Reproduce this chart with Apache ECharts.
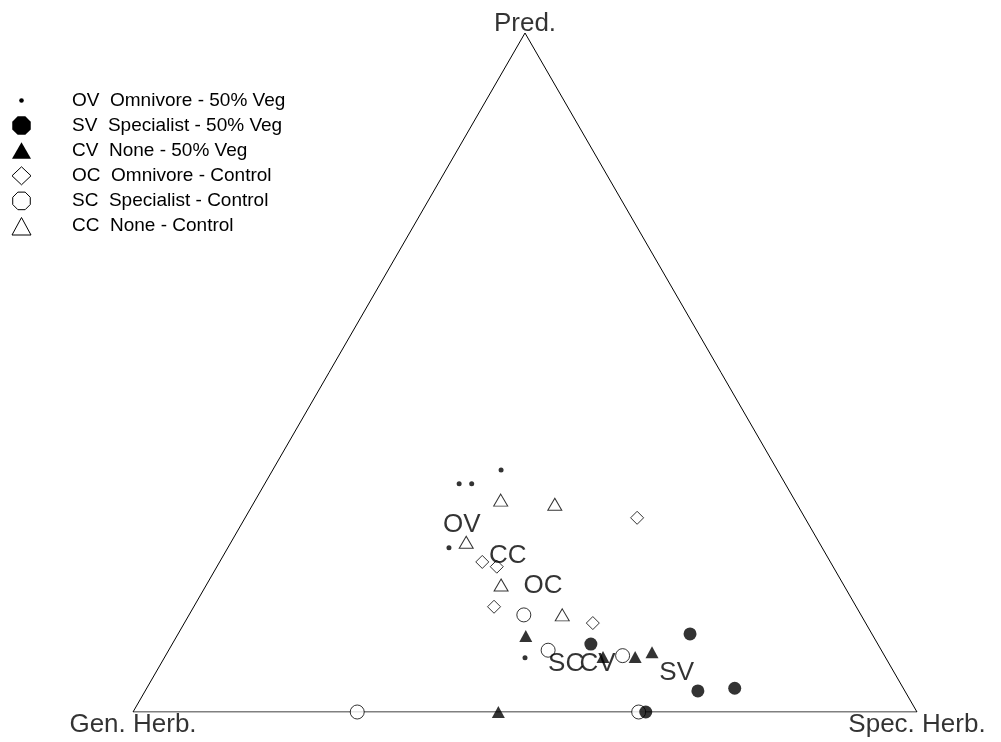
<!DOCTYPE html>
<html><head><meta charset="utf-8">
<script src="https://cdn.jsdelivr.net/npm/echarts@6/dist/echarts.min.js"></script>
<style>html,body{margin:0;padding:0;background:#fff}#c{width:1001px;height:742px}</style>
</head><body><div id="c"></div>
<script>
// Ternary compositions, each point = [Pred., Gen. Herb., Spec. Herb.] proportions
const axisNames = ['Pred.', 'Gen. Herb.', 'Spec. Herb.'];
const groupCodes = ['OV', 'SV', 'CV', 'OC', 'SC', 'CC'];
const groupNames = ['Omnivore - 50% Veg', 'Specialist - 50% Veg', 'None - 50% Veg',
                    'Omnivore - Control', 'Specialist - Control', 'None - Control'];

const OV = [[0.356,0.352,0.291],[0.336,0.416,0.248],[0.336,0.400,0.264],[0.242,0.476,0.282],[0.080,0.460,0.460]];
const SV = [[0.115,0.232,0.653],[0.031,0.264,0.705],[0.035,0.215,0.750],[0.100,0.366,0.534],[0.000,0.346,0.654]];
const CV = [[0.112,0.443,0.445],[0.081,0.360,0.559],[0.081,0.319,0.600],[0.088,0.294,0.618],[0.000,0.534,0.466]];
const OC = [[0.286,0.214,0.500],[0.221,0.444,0.335],[0.214,0.429,0.357],[0.155,0.462,0.383],[0.131,0.348,0.521]];
const SC = [[0.143,0.430,0.427],[0.091,0.425,0.484],[0.083,0.334,0.583],[0.000,0.714,0.286],[0.000,0.355,0.645]];
const CC = [[0.312,0.375,0.313],[0.306,0.309,0.385],[0.250,0.450,0.300],[0.187,0.437,0.376],[0.143,0.381,0.476]];

// group label positions (centres), same order as groupCodes
const groupCentres = [[0.275,0.443,0.282],[0.057,0.278,0.665],[0.071,0.372,0.557],
                      [0.186,0.384,0.430],[0.071,0.412,0.517],[0.230,0.407,0.363]];

const SQ = Math.sqrt(3) / 2;
function toXY(c) {
  const t = c[0] + c[1] + c[2];
  const p = c[0] / t, s = c[2] / t;
  return [s + p / 2, p * SQ];
}
const FONT = '"Liberation Sans", Arial, sans-serif';

const groups = { OV, SV, CV, OC, SC, CC };
const styles = {
  OV: { symbol: 'circle', symbolSize: 5, itemStyle: { color: '#000' } },
  SV: { symbol: 'circle', symbolSize: 13, itemStyle: { color: '#000' } },
  CV: { symbol: 'triangle', symbolSize: [13, 12], itemStyle: { color: '#000' } },
  OC: { symbol: 'diamond', symbolSize: 13, itemStyle: { color: '#fff', borderColor: '#000', borderWidth: 1 } },
  SC: { symbol: 'circle', symbolSize: 14, itemStyle: { color: '#fff', borderColor: '#000', borderWidth: 1 } },
  CC: { symbol: 'triangle', symbolSize: [14, 12], itemStyle: { color: '#fff', borderColor: '#000', borderWidth: 1 } }
};
const drawOrder = ['OC', 'SC', 'CC', 'OV', 'SV', 'CV'];

const vertices = [[1,0,0],[0,1,0],[0,0,1]];
const frame = [vertices[1], vertices[2], vertices[0], vertices[1]].map(toXY);

const series = [];
series.push({
  type: 'line', data: frame, symbol: 'none', silent: true, z: 1,
  lineStyle: { color: '#000', width: 1 }
});
drawOrder.forEach(function (code) {
  const st = styles[code];
  series.push(Object.assign({
    type: 'scatter', name: code, z: 3,
    data: groups[code].map(toXY)
  }, st));
});
series.push({
  type: 'scatter', z: 5, symbolSize: 1, itemStyle: { color: 'rgba(0,0,0,0)' },
  data: groupCodes.map(function (c, i) { return { name: c, value: toXY(groupCentres[i]) }; }),
  label: { show: true, position: 'inside', formatter: '{b}', color: '#000', fontSize: 26, fontFamily: FONT }
});
const vOffsets = [[0, -9], [0, 13], [0, 13]];
series.push({
  type: 'scatter', z: 5, symbolSize: 1, itemStyle: { color: 'rgba(0,0,0,0)' },
  data: axisNames.map(function (n, i) {
    return { name: n, value: toXY(vertices[i]), label: { offset: vOffsets[i] } };
  }),
  label: { show: true, position: 'inside', formatter: '{b}', color: '#000', fontSize: 26, fontFamily: FONT }
});

// legend drawn as graphic elements
function octagon(cx, cy, r) {
  const pts = [];
  for (let k = 0; k < 8; k++) {
    const a = Math.PI / 8 + k * Math.PI / 4;
    pts.push([cx + r * Math.cos(a), cy + r * Math.sin(a)]);
  }
  return pts;
}
const legendIcons = {
  OV: function (x, y) { return { type: 'circle', shape: { cx: x, cy: y, r: 2.3 }, style: { fill: '#000' } }; },
  SV: function (x, y) { return { type: 'polygon', shape: { points: octagon(x, y, 10) }, style: { fill: '#000' } }; },
  CV: function (x, y) { return { type: 'polygon', shape: { points: [[x, y - 8.5], [x + 9.5, y + 8], [x - 9.5, y + 8]] }, style: { fill: '#000' } }; },
  OC: function (x, y) { return { type: 'polygon', shape: { points: [[x, y - 9], [x + 9.5, y], [x, y + 9], [x - 9.5, y]] }, style: { fill: '#fff', stroke: '#000', lineWidth: 1 } }; },
  SC: function (x, y) { return { type: 'polygon', shape: { points: octagon(x, y, 9.5) }, style: { fill: '#fff', stroke: '#000', lineWidth: 1 } }; },
  CC: function (x, y) { return { type: 'polygon', shape: { points: [[x, y - 8.5], [x + 9.5, y + 9], [x - 9.5, y + 9]] }, style: { fill: '#fff', stroke: '#000', lineWidth: 1 } }; }
};
const graphic = [];
groupCodes.forEach(function (code, i) {
  const y = 100.5 + i * 25.1;
  graphic.push(legendIcons[code](21.5, y));
  graphic.push({
    type: 'text', x: 72, y: y,
    style: { text: code + '  ' + groupNames[i], fill: '#000', fontSize: 19, fontFamily: FONT, verticalAlign: 'middle', align: 'left' }
  });
});

const chart = echarts.init(document.getElementById('c'), null, { renderer: 'canvas' });
chart.setOption({
  animation: false,
  backgroundColor: '#fff',
  grid: { left: 133, top: 33, width: 784, height: 679 },
  xAxis: { type: 'value', min: 0, max: 1, show: false },
  yAxis: { type: 'value', min: 0, max: SQ, show: false },
  series: series,
  graphic: graphic
});
</script></body></html>
